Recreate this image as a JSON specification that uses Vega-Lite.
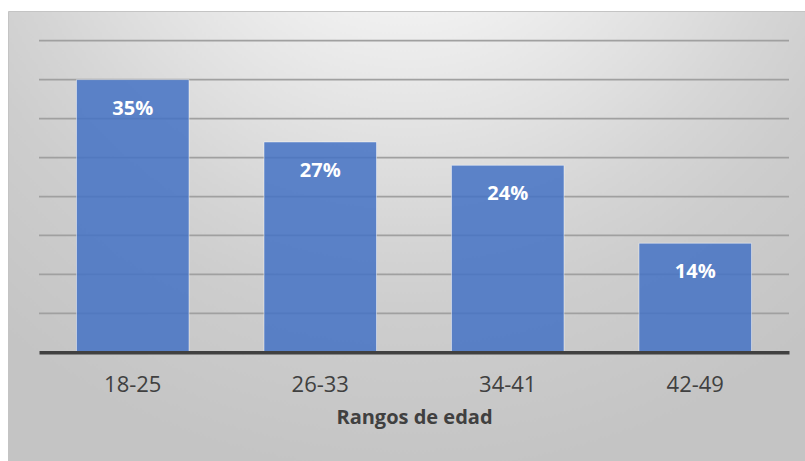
{
  "$schema": "https://vega.github.io/schema/vega-lite/v6.json",
  "width": 797,
  "height": 450,
  "autosize": {"type": "none"},
  "padding": {"left": 8, "top": 11, "right": 0, "bottom": 0},
  "background": "#ffffff",
  "config": {
    "font": "Open Sans",
    "view": {
      "stroke": "#c4c4c4",
      "strokeWidth": 1,
      "fill": {
        "gradient": "radial",
        "x1": 0.5, "y1": 0, "r1": 0,
        "x2": 0.5, "y2": 0, "r2": 1,
        "stops": [
          {"offset": 0, "color": "#ffffff"},
          {"offset": 0.1, "color": "#fbfbfb"},
          {"offset": 0.25, "color": "#ededed"},
          {"offset": 0.4, "color": "#dfdfdf"},
          {"offset": 0.5, "color": "#d5d5d5"},
          {"offset": 0.6, "color": "#cdcdcd"},
          {"offset": 0.8, "color": "#c4c4c4"}
        ]
      }
    }
  },
  "datasets": {
    "edades": [
      {"rango": "18-25", "pct": 0.35},
      {"rango": "26-33", "pct": 0.27},
      {"rango": "34-41", "pct": 0.24},
      {"rango": "42-49", "pct": 0.14}
    ],
    "cuadricula": [
      {"v": 0.05}, {"v": 0.10}, {"v": 0.15}, {"v": 0.20},
      {"v": 0.25}, {"v": 0.30}, {"v": 0.35}, {"v": 0.40}
    ]
  },
  "resolve": {"scale": {"x": "independent"}},
  "layer": [
    {
      "data": {"name": "cuadricula"},
      "mark": {"type": "rule", "color": "#a0a0a0", "strokeWidth": 1.75},
      "encoding": {
        "x": {"datum": 0, "type": "quantitative", "scale": {"domain": [0, 1], "range": [31, 781]}, "axis": null},
        "x2": {"datum": 1},
        "y": {"field": "v", "type": "quantitative", "scale": {"domain": [-0.13954, 0.43813], "nice": false, "zero": false}, "axis": null}
      }
    },
    {
      "data": {"name": "edades"},
      "encoding": {
        "x": {
          "field": "rango",
          "type": "nominal",
          "sort": null,
          "scale": {"range": [31, 781], "paddingInner": 0.4, "paddingOuter": 0.2},
          "axis": {
            "title": "Rangos de edad",
            "orient": "bottom",
            "offset": -108.7,
            "zindex": 1,
            "grid": false,
            "ticks": false,
            "tickSize": 0,
            "domain": true,
            "domainColor": "#404040",
            "domainWidth": 3.5,
            "labelAngle": 0,
            "labelFont": "Open Sans",
            "labelFontSize": 22,
            "labelColor": "#404040",
            "labelBaseline": "alphabetic",
            "labelPadding": 39.4,
            "titleFont": "Open Sans",
            "titleFontSize": 20,
            "titleFontWeight": "bold",
            "titleColor": "#404040",
            "titleBaseline": "alphabetic",
            "titleY": 71
          }
        },
        "y": {"field": "pct", "type": "quantitative", "scale": {"domain": [-0.13954, 0.43813], "nice": false, "zero": false}, "axis": null}
      },
      "layer": [
        {
          "mark": {"type": "bar", "color": "#4472C4", "fillOpacity": 0.85, "stroke": "#ffffff", "strokeOpacity": 0.45, "strokeWidth": 1},
          "encoding": {"y2": {"datum": 0}}
        },
        {
          "mark": {"type": "text", "color": "#ffffff", "font": "Open Sans", "fontSize": 20, "fontWeight": "bold", "align": "center", "baseline": "alphabetic", "dy": 35},
          "encoding": {"text": {"field": "pct", "type": "quantitative", "format": ".0%"}}
        }
      ]
    }
  ]
}
